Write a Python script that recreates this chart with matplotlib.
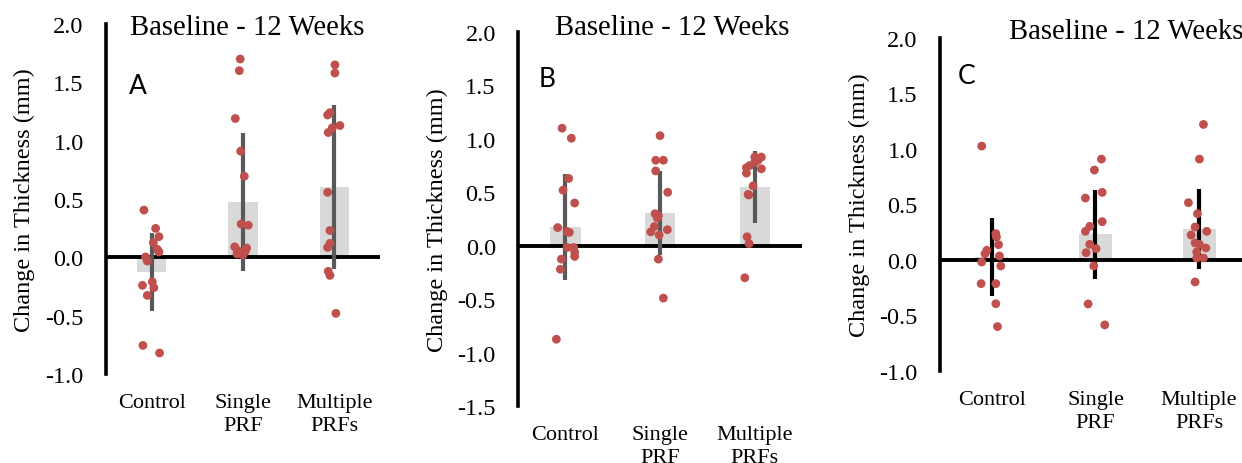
import numpy as np
import matplotlib
matplotlib.use("Agg")
import matplotlib.pyplot as plt

groups = ["Control", "Single\nPRF", "Multiple\nPRFs"]
title = "Baseline - 12 Weeks"

# panel A
a_means = [-0.127, 0.473, 0.605]
a_sd = [0.337, 0.593, 0.705]
a_ctrl = [0.405, 0.248, 0.177, 0.126, 0.069, 0.046, 0.003, -0.032, -0.21, -0.24, -0.26, -0.326, -0.755, -0.82]
a_ctrl_jit = [-0.084, 0.044, 0.08, 0.019, 0.062, 0.08, -0.066, -0.047, 0.008, -0.10, 0.025, -0.047, -0.095, 0.087]
a_single = [1.70, 1.60, 1.19, 0.91, 0.695, 0.285, 0.275, 0.09, 0.08, 0.06, 0.05, 0.04, 0.03, 0.02]
a_single_jit = [-0.03, -0.04, -0.084, -0.025, 0.015, -0.02, 0.058, -0.09, 0.04, -0.06, 0.025, -0.01, -0.065, 0.0]
a_multi = [1.65, 1.58, 1.24, 1.22, 1.13, 1.11, 1.07, 0.557, 0.23, 0.12, 0.085, -0.12, -0.155, -0.48]
a_multi_jit = [0.007, 0.007, -0.047, -0.073, 0.062, -0.022, -0.066, -0.073, -0.047, -0.047, -0.073, -0.066, -0.047, 0.018]

# panel B
b_means = [0.176, 0.306, 0.548]
b_sd = [0.495, 0.39, 0.336]
b_ctrl = [1.10, 1.006, 0.63, 0.52, 0.40, 0.17, 0.134, 0.125, -0.016, -0.016, -0.06, -0.10, -0.125, -0.22, -0.875]
b_ctrl_jit = [-0.035, 0.063, 0.035, -0.025, 0.098, -0.081, 0.018, 0.042, 0.018, 0.088, 0.098, 0.098, -0.042, -0.053, -0.095]
b_single = [1.03, 0.80, 0.80, 0.70, 0.50, 0.30, 0.28, 0.26, 0.18, 0.15, 0.13, 0.10, -0.125, -0.49]
b_single_jit = [0.0, -0.046, 0.035, -0.046, 0.081, -0.053, -0.018, -0.03, -0.06, 0.077, -0.098, -0.01, -0.018, 0.035]
b_multi = [0.83, 0.83, 0.80, 0.78, 0.75, 0.73, 0.72, 0.68, 0.56, 0.48, 0.475, 0.084, 0.02, -0.30]
b_multi_jit = [0.0, 0.07, 0.035, 0.0, -0.053, -0.088, 0.07, -0.088, -0.018, -0.07, -0.063, -0.081, -0.06, -0.105]

# panel C
c_means = [0.027, 0.233, 0.279]
c_sd = [0.354, 0.40, 0.363]
c_ctrl = [1.026, 0.237, 0.207, 0.138, 0.087, 0.057, 0.036, -0.018, -0.054, -0.213, -0.213, -0.394, -0.60]
c_ctrl_jit = [-0.097, 0.039, 0.045, 0.065, -0.048, -0.065, 0.074, -0.097, 0.087, -0.103, 0.039, 0.039, 0.055]
c_single = [0.909, 0.81, 0.609, 0.558, 0.345, 0.303, 0.258, 0.141, 0.102, 0.066, -0.054, -0.396, -0.585]
c_single_jit = [0.058, -0.01, 0.065, -0.097, 0.065, -0.055, -0.097, -0.055, 0.006, -0.09, -0.016, -0.071, 0.09]
c_multi = [1.221, 0.909, 0.516, 0.417, 0.297, 0.258, 0.225, 0.153, 0.141, 0.108, 0.072, 0.018, 0.018, -0.198]
c_multi_jit = [0.042, 0.003, -0.103, -0.016, -0.039, 0.074, -0.077, -0.039, 0.003, 0.065, -0.023, -0.023, 0.042, -0.039]

serif = "Liberation Serif"
dot_color = "#C0504D"
bar_color = "#D9D9D9"


def panel(ax, means, sd, points, jits, ylim, err_color, letter, letter_xy, title_xy, ylab_x):
    x = np.arange(3)
    ax.bar(x, means, width=0.32, color=bar_color, zorder=1)
    ax.axhline(0, color="black", lw=2.8, zorder=2)
    ax.errorbar(x, means, yerr=sd, fmt="none", ecolor=err_color, elinewidth=3, capsize=0, zorder=3)
    for i in range(3):
        ax.scatter(i + np.array(jits[i]), points[i], s=40, color=dot_color, edgecolors="none", zorder=4)
    ax.set_xlim(-0.5, 2.5)
    ax.set_ylim(*ylim)
    ticks = np.arange(ylim[0], ylim[1] + 0.01, 0.5)
    ax.set_yticks(ticks)
    ax.set_yticklabels(["%.1f" % v for v in ticks])
    ax.set_xticks(x)
    ax.set_xticklabels(groups, linespacing=1.25)
    for s in ["top", "right", "bottom"]:
        ax.spines[s].set_visible(False)
    ax.spines["left"].set_linewidth(2.6)
    ax.tick_params(axis="y", length=0, pad=16, labelsize=17.5)
    ax.tick_params(axis="x", length=0, pad=14, labelsize=16)
    for lab in ax.get_xticklabels() + ax.get_yticklabels():
        lab.set_fontfamily(serif)
    ax.set_ylabel("Change in Thickness (mm)", fontsize=17.5, family=serif)
    ax.yaxis.set_label_coords(ylab_x, 0.5)
    ax.text(title_xy[0], title_xy[1], title, transform=ax.transAxes, ha="center", va="center",
            fontsize=20.7, family=serif, clip_on=False)
    ax.text(letter_xy[0], letter_xy[1], letter, transform=ax.transAxes, ha="center", va="center",
            fontsize=19, family="Lato")
    ax.patch.set_alpha(0)


fig = plt.figure(figsize=(12.42, 4.64), dpi=100)
axA = fig.add_axes([0.0853, 0.1918, 0.2206, 0.7543])
axB = fig.add_axes([0.4171, 0.1228, 0.2287, 0.806])
axC = fig.add_axes([0.7568, 0.1983, 0.2504, 0.7177])

panel(axA, a_means, a_sd, [a_ctrl, a_single, a_multi], [a_ctrl_jit, a_single_jit, a_multi_jit],
      (-1.0, 2.0), "#595959", "A", (0.117, 0.823), (0.515, 0.991), -0.259)
panel(axB, b_means, b_sd, [b_ctrl, b_single, b_multi], [b_ctrl_jit, b_single_jit, b_multi_jit],
      (-1.5, 2.0), "#595959", "B", (0.102, 0.877), (0.544, 1.013), -0.246)
panel(axC, c_means, c_sd, [c_ctrl, c_single, c_multi], [c_ctrl_jit, c_single_jit, c_multi_jit],
      (-1.0, 2.0), "black", "C", (0.087, 0.886), (0.60, 1.021), -0.225)

fig.savefig("out.png", dpi=100)
